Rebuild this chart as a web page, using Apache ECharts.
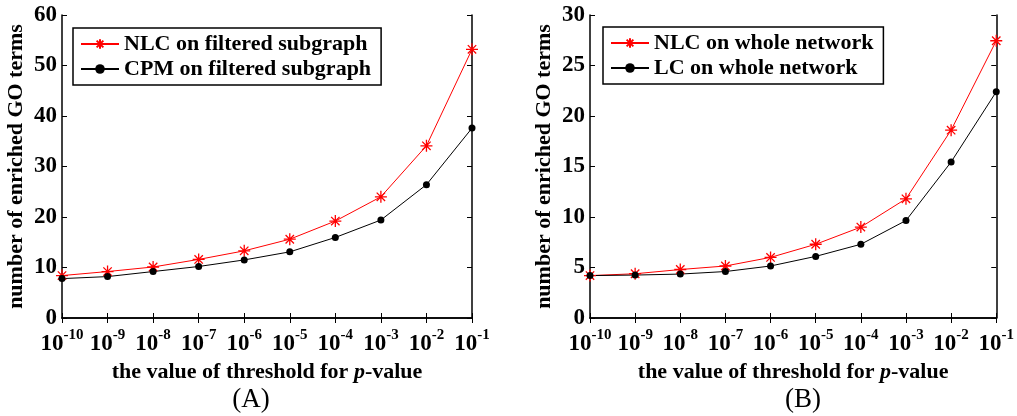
<!DOCTYPE html>
<html><head><meta charset="utf-8">
<script src="https://cdn.jsdelivr.net/npm/echarts@6/dist/echarts.min.js"></script>
<style>html,body{margin:0;padding:0;background:#fff}#c{width:1017px;height:416px}</style>
</head><body><div id="c"></div>
<script>
const exponents = [-10, -9, -8, -7, -6, -5, -4, -3, -2, -1];
const nlcFiltered = [8.4, 9.2, 10.1, 11.6, 13.3, 15.6, 19.2, 24.0, 34.1, 53.2];
const cpmFiltered = [7.8, 8.2, 9.2, 10.2, 11.5, 13.1, 15.95, 19.4, 26.4, 37.6];
const nlcWhole = [4.2, 4.38, 4.8, 5.15, 6.0, 7.3, 9.0, 11.8, 18.6, 27.45];
const lcWhole = [4.2, 4.25, 4.35, 4.6, 5.15, 6.1, 7.3, 9.65, 15.45, 22.4];
const yTicksA = [0, 10, 20, 30, 40, 50, 60];
const yTicksB = [0, 5, 10, 15, 20, 25, 30];
const seriesNames = ['NLC on filtered subgraph', 'CPM on filtered subgraph', 'NLC on whole network', 'LC on whole network'];
const panelLabels = ['(A)', '(B)'];

const FONT = '"Liberation Serif", "Times New Roman", serif';
const star = 'path://M0 5 L10 5 M5 0 L5 10 M1.5 1.5 L8.5 8.5 M8.5 1.5 L1.5 8.5';
const pair = (xs, ys) => xs.map((x, i) => [x, ys[i]]);

const grids = [
  {left: 62, right: 545, top: 15, bottom: 98},
  {left: 590, right: 17, top: 15, bottom: 98}
];
const axisLine = {show: true, lineStyle: {color: '#000', width: 1.5}};
function xAx(gi, pos) {
  return {
    type: 'value', gridIndex: gi, position: pos, min: -10, max: -1, interval: 1,
    axisLine: axisLine, splitLine: {show: false},
    axisTick: {show: true, inside: true, length: 5, lineStyle: {color: '#000', width: 1}},
    axisLabel: pos === 'bottom' ? {
      show: true, margin: 10,
      formatter: v => '{b|10}{s|' + v + '}',
      rich: {
        b: {fontFamily: FONT, fontWeight: 'bold', fontSize: 23, color: '#000', lineHeight: 28, verticalAlign: 'bottom'},
        s: {fontFamily: FONT, fontWeight: 'bold', fontSize: 15, color: '#000', lineHeight: 28, verticalAlign: 'top', padding: [0, 0, 12, 0]}
      }
    } : {show: false},
    name: pos === 'bottom' ? 'the value of threshold for {i|p}-value' : '',
    nameLocation: 'middle', nameGap: 39,
    nameTextStyle: {fontFamily: FONT, fontWeight: 'bold', fontSize: 22, color: '#000',
      rich: {i: {fontFamily: FONT, fontWeight: 'bold', fontStyle: 'italic', fontSize: 22, color: '#000'}}}
  };
}
function yAx(gi, pos, ticks) {
  const step = ticks[1] - ticks[0];
  return {
    type: 'value', gridIndex: gi, position: pos, min: ticks[0], max: ticks[ticks.length - 1], interval: step,
    axisLine: axisLine, splitLine: {show: false},
    axisTick: {show: true, inside: true, length: 5, lineStyle: {color: '#000', width: 1}},
    axisLabel: pos === 'left' ? {show: true, margin: 5, fontFamily: FONT, fontWeight: 'bold', fontSize: 23, color: '#000'} : {show: false},
    name: pos === 'left' ? 'number of enriched GO terms' : '',
    nameLocation: 'middle', nameGap: 35,
    nameTextStyle: {fontFamily: FONT, fontWeight: 'bold', fontSize: 22, color: '#000'}
  };
}
function mk(name, data, gi, isStar) {
  return {
    name: name, type: 'line', xAxisIndex: gi * 2, yAxisIndex: gi * 2, data: data,
    lineStyle: {color: isStar ? '#ff0000' : '#000', width: 1},
    symbol: isStar ? star : 'circle',
    symbolSize: isStar ? 12 : 7,
    itemStyle: isStar ? {color: 'none', borderColor: '#ff0000', borderWidth: 1.3} : {color: '#000', borderColor: '#000', borderWidth: 0},
    color: isStar ? '#ff0000' : '#000',
    animation: false, showSymbol: true
  };
}
const legendStyle = {
  orient: 'vertical', borderColor: '#000', borderWidth: 1.5, backgroundColor: '#fff',
  padding: [5, 10, 5, 7], itemGap: 3, itemWidth: 38, itemHeight: 12,
  textStyle: {fontFamily: FONT, fontWeight: 'bold', fontSize: 22, color: '#000'}
};
const option = {
  animation: false,
  grid: grids,
  xAxis: [xAx(0, 'bottom'), xAx(0, 'top'), xAx(1, 'bottom'), xAx(1, 'top')],
  yAxis: [yAx(0, 'left', yTicksA), yAx(0, 'right', yTicksA), yAx(1, 'left', yTicksB), yAx(1, 'right', yTicksB)],
  legend: [
    Object.assign({left: 73, top: 28, data: [seriesNames[0], seriesNames[1]]}, legendStyle),
    Object.assign({left: 603, top: 27, data: [seriesNames[2], seriesNames[3]]}, legendStyle)
  ],
  title: [
    {text: panelLabels[0], left: 246, top: 381, textAlign: 'center', textStyle: {fontFamily: FONT, fontWeight: 'normal', fontSize: 27, color: '#000'}},
    {text: panelLabels[1], left: 798, top: 381, textAlign: 'center', textStyle: {fontFamily: FONT, fontWeight: 'normal', fontSize: 27, color: '#000'}}
  ],
  series: [
    mk(seriesNames[0], pair(exponents, nlcFiltered), 0, true),
    mk(seriesNames[1], pair(exponents, cpmFiltered), 0, false),
    mk(seriesNames[2], pair(exponents, nlcWhole), 1, true),
    mk(seriesNames[3], pair(exponents, lcWhole), 1, false)
  ]
};
echarts.init(document.getElementById('c'), null, {renderer: 'canvas'}).setOption(option);
</script></body></html>
